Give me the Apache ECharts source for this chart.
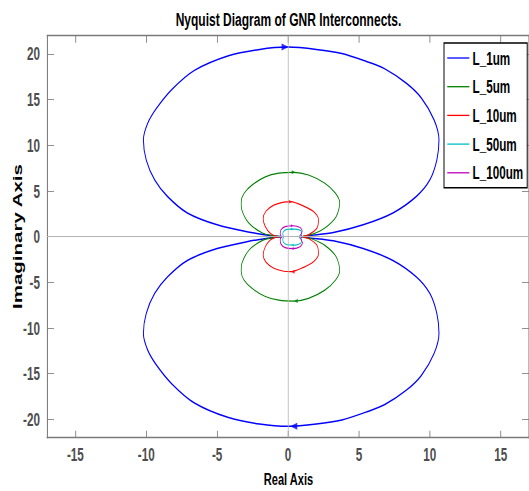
<!DOCTYPE html>
<html>
<head>
<meta charset="utf-8">
<script src="https://cdn.jsdelivr.net/npm/echarts@6/dist/echarts.min.js"></script>
<style>
html,body{margin:0;padding:0;background:#fff;overflow:hidden;width:529px;height:491px;}
#wrap{width:529px;height:491px;overflow:hidden;position:relative;}
#c{width:814px;height:491px;position:absolute;left:0;top:0;transform-origin:0 0;}
</style>
</head>
<body>
<div id="wrap"><div id="c"></div></div>
<script>
// ---- data (real axis, imaginary axis) ----
var seriesNames = ['L_1um', 'L_5um', 'L_10um', 'L_50um', 'L_100um'];
var xTicks = [-15, -10, -5, 0, 5, 10, 15];
var yTicks = [-20, -15, -10, -5, 0, 5, 10, 15, 20];

var L1um = [
  [-0.4,0],[-1.0,0.08],[-2.9,0.55],[-5.0,1.3],[-7.1,2.6],[-8.5,4.4],[-9.4,6.2],[-10.0,8.4],[-10.2,10.6],
  [-9.9,12.4],[-9.3,14.0],[-8.2,16.1],[-6.6,18.2],[-4.2,19.8],[-2.0,20.5],[0,20.75],
  [2.0,20.5],[3.8,20.05],[5.5,19.2],[6.8,18.4],[8.35,16.8],[9.4,15.2],[10.3,12.8],[10.65,10.6],
  [10.5,8.4],[10.0,6.2],[9.05,4.4],[7.4,2.6],[5.3,1.3],[3.2,0.45],[1.1,0],
  [3.2,-0.45],[5.3,-1.3],[7.4,-2.6],[9.05,-4.4],[10.0,-6.2],[10.5,-8.4],[10.65,-10.6],[10.3,-12.8],
  [9.4,-15.2],[8.35,-16.8],[6.8,-18.4],[5.5,-19.2],[3.8,-20.05],[2.0,-20.5],[0,-20.75],
  [-2.0,-20.5],[-4.2,-19.8],[-6.6,-18.2],[-8.2,-16.1],[-9.3,-14.0],[-9.9,-12.4],[-10.2,-10.6],
  [-10.0,-8.4],[-9.4,-6.2],[-8.5,-4.4],[-7.1,-2.6],[-5.0,-1.3],[-2.9,-0.55],[-1.0,-0.08],[-0.4,0]
];
var L5um = [
  [-0.5,0],[-1.1,0.12],[-1.8,0.4],[-2.75,1.47],[-3.25,2.9],[-3.3,3.8],[-3.1,4.75],[-2.5,5.7],[-1.6,6.55],
  [-0.65,6.95],[0.4,7.05],[1.45,6.75],[2.6,5.85],[3.35,4.75],[3.65,3.7],[3.4,2.2],[2.6,0.95],[1.7,0.25],[1.0,0],
  [1.7,-0.25],[2.6,-0.95],[3.4,-2.2],[3.65,-3.7],[3.35,-4.75],[2.6,-5.85],[1.45,-6.75],[0.4,-7.05],
  [-0.65,-6.95],[-1.6,-6.55],[-2.5,-5.7],[-3.1,-4.75],[-3.3,-3.8],[-3.25,-2.9],[-2.75,-1.47],[-1.8,-0.4],[-1.1,-0.12],[-0.5,0]
];
var L10um = [
  [-0.5,0],[-0.9,0.08],[-1.25,0.37],[-1.6,1.1],[-1.75,2.0],[-1.55,2.8],[-1.0,3.45],[-0.3,3.78],[0.17,3.83],
  [1.1,3.35],[1.8,2.75],[2.15,1.9],[2.05,0.95],[1.45,0.2],[1.0,0],
  [1.45,-0.2],[2.05,-0.95],[2.15,-1.9],[1.8,-2.75],[1.1,-3.35],[0.17,-3.83],[-0.3,-3.78],[-1.0,-3.45],
  [-1.55,-2.8],[-1.75,-2.0],[-1.6,-1.1],[-1.25,-0.37],[-0.9,-0.08],[-0.5,0]
];
var L50um = [
  [-0.3,0],[-0.37,0.3],[-0.3,0.6],[-0.07,0.8],[0.52,0.84],[0.91,0.66],[0.95,0.3],[0.8,0.08],[0.9,0],
  [0.8,-0.08],[0.95,-0.3],[0.91,-0.7],[0.52,-0.92],[-0.07,-0.88],[-0.3,-0.65],[-0.37,-0.3],[-0.3,0]
];
var L100um = [
  [-0.45,0],[-0.55,0.3],[-0.5,0.75],[-0.2,1.1],[0.35,1.2],[0.85,1.0],[1.0,0.6],[0.9,0.2],[1.0,0],
  [0.9,-0.2],[1.02,-0.65],[0.85,-1.1],[0.35,-1.3],[-0.2,-1.2],[-0.5,-0.8],[-0.55,-0.3],[-0.45,0]
];
// direction arrows: [x, y, rotation]
var arrowsL1um = [[-0.2,20.75,-90],[0.4,-20.75,90]];
var arrowsL5um = [[0.4,7.05,-90],[0.55,-7.05,90]];
var arrowsL10um = [[0.17,3.83,-90],[0.33,-3.83,90]];
var arrowsL50um = [[0.3,0.84,-90],[0.3,-0.92,90]];
var arrowsL100um = [[0.3,1.2,-90],[0.3,-1.3,90]];

var curves = [L1um, L5um, L10um, L50um, L100um];
var arrows = [arrowsL1um, arrowsL5um, arrowsL10um, arrowsL50um, arrowsL100um];
var colors = ['#0000ff', '#008000', '#ff0000', '#00bfbf', '#bf00bf'];

// The reference figure is horizontally compressed; draw wide and squeeze with CSS.
var W = 814, K = 529 / W;
document.getElementById('c').style.transform = 'scaleX(' + K + ')';
function sx(px) { return px / K; }

var arrowSizes = [[7,11],[4,6],[4,6],[3,4.5],[3,4.5]];
var widths = [1.5, 1.2, 1.2, 1.2, 1.2];

var AX = '#7a7a7a';
var LBL = '#4d4d4d';
var FONT = '"Liberation Sans", Arial, Helvetica, sans-serif';

function mkX(pos, showLabel) {
  return {
    type: 'value', min: -17, max: 17, position: pos,
    axisLine: { show: true, onZero: false, lineStyle: { color: AX, width: 1.3 } },
    axisTick: { show: true, inside: true, length: 7, customValues: xTicks, lineStyle: { color: AX, width: 1.3 } },
    axisLabel: { show: showLabel, customValues: xTicks, margin: 8, color: LBL, fontFamily: FONT, fontWeight: 'bold', fontSize: 18 },
    splitLine: { show: false }
  };
}
function mkY(pos, showLabel) {
  return {
    type: 'value', min: -22, max: 22, position: pos,
    axisLine: { show: true, onZero: false, lineStyle: { color: AX, width: 1.6 } },
    axisTick: { show: true, inside: true, length: sx(7), customValues: yTicks, lineStyle: { color: AX } },
    axisLabel: { show: showLabel, customValues: yTicks, margin: sx(7), color: LBL, fontFamily: FONT, fontWeight: 'bold', fontSize: 18 },
    splitLine: { show: false }
  };
}

var series = [{
  type: 'line', data: [], silent: true, z: 1,
  markLine: {
    silent: true, symbol: 'none', label: { show: false }, animation: false,
    lineStyle: { color: '#b4b4b4', width: 1.2, type: 'solid' },
    data: [{ xAxis: 0 }, { yAxis: 0 }]
  }
}];
curves.forEach(function (d, i) {
  series.push({
    name: seriesNames[i], type: 'line', data: d, symbol: 'none', smooth: 0.3, z: 3,
    lineStyle: { color: colors[i], width: widths[i] }, itemStyle: { color: colors[i] }
  });
});
arrows.forEach(function (a, i) {
  series.push({
    type: 'scatter', z: 4, symbol: 'triangle', symbolSize: arrowSizes[i],
    itemStyle: { color: colors[i] }, silent: true,
    data: a.map(function (p) { return { value: [p[0], p[1]], symbolRotate: p[2] }; })
  });
});

var chart = echarts.init(document.getElementById('c'), null, { renderer: 'svg', width: W, height: 491 });
chart.setOption({
  animation: false,
  backgroundColor: '#fff',
  grid: { left: sx(47), right: sx(-2.5), top: 35.7, bottom: 53.3, containLabel: false },
  xAxis: [mkX('bottom', true), mkX('top', false)],
  yAxis: [mkY('left', true), mkY('right', false)],
  legend: {
    data: seriesNames, orient: 'vertical', left: sx(444), top: 43,
    backgroundColor: '#fff', borderColor: '#000', borderWidth: 1.5,
    padding: [6, 6, 6, 5], itemWidth: 34, itemHeight: 1.3, itemGap: 10.7, icon: 'rect',
    textStyle: { color: '#000', fontFamily: FONT, fontWeight: 'bold', fontSize: 18 }
  },
  graphic: [
    { type: 'text', x: sx(288.5), y: 19.5, z: 10,
      style: { text: 'Nyquist Diagram of GNR Interconnects.', fontFamily: FONT, fontWeight: 'bold', fontSize: 18.5, fill: '#000', align: 'center', verticalAlign: 'middle' } },
    { type: 'text', x: sx(288.5), y: 479, z: 10,
      style: { text: 'Real Axis', fontFamily: FONT, fontWeight: 'bold', fontSize: 17, fill: '#000', align: 'center', verticalAlign: 'middle' } },
    { type: 'text', x: sx(17), y: 236.5, rotation: Math.PI / 2, z: 10,
      style: { text: 'Imaginary Axis', fontFamily: FONT, fontWeight: 'bold', fontSize: 20.5, fill: '#000', align: 'center', verticalAlign: 'middle' } }
  ],
  series: series
});
</script>
</body>
</html>
